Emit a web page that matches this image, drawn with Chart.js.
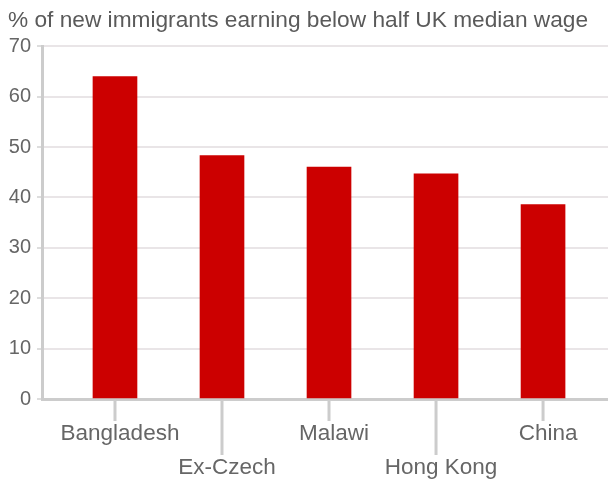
<!DOCTYPE html>
<html>
<head>
<meta charset="utf-8">
<script src="https://cdn.jsdelivr.net/npm/chart.js@4/dist/chart.umd.min.js"></script>
<style>
    html, body { margin: 0; padding: 0; background: #ffffff; }
    #wrap { width: 608px; height: 485px; }
</style>
</head>
<body>
<div id="wrap"><canvas id="wage-chart" width="608" height="485"></canvas></div>
<script>
const categories = ["Bangladesh", "Ex-Czech", "Malawi", "Hong Kong", "China"];
const values = [64, 48.3, 46, 44.7, 38.6];
const yTicks = [0, 10, 20, 30, 40, 50, 60, 70];
const title = "% of new immigrants earning below half UK median wage";

const FONT = "'Liberation Sans', Arial, Helvetica, sans-serif";

// long tick lines down to the staggered labels
const tickMarks = {
    id: "tickMarks",
    afterDraw(chart) {
        const x = chart.scales.x;
        const ctx = chart.ctx;
        ctx.save();
        ctx.strokeStyle = "#cccccc";
        ctx.lineWidth = 3;
        x.ticks.forEach((t, i) => {
            const px = x.getPixelForValue(t.value);
            const len = i % 2 ? 56 : 22;
            ctx.beginPath();
            ctx.moveTo(px, x.top);
            ctx.lineTo(px, x.top + len);
            ctx.stroke();
        });
        ctx.restore();
    }
};

const ctx = document.getElementById("wage-chart").getContext("2d");
new Chart(ctx, {
    type: "bar",
    data: {
        datasets: [
            {
                data: categories.map((c, i) => ({ x: i, y: values[i] })),
                backgroundColor: "#cc0000",
                barThickness: 44
            }
        ]
    },
    options: {
        responsive: false,
        animation: false,
        layout: {
            padding: { left: 8, right: 0, top: 0, bottom: 0 }
        },
        plugins: {
            legend: { display: false },
            tooltip: { enabled: false },
            title: {
                display: true,
                text: title,
                align: "start",
                color: "#5a5a5a",
                font: { family: FONT, size: 22.7, weight: "normal" },
                padding: { top: 7, bottom: 12 }
            }
        },
        scales: {
            x: {
                type: "linear",
                offset: false,
                min: -0.682,
                max: 4.607,
                afterBuildTicks: (scale) => {
                    scale.ticks = categories.map((c, i) => ({ value: i }));
                },
                afterFit: (scale) => {
                    scale.height = 86;
                },
                ticks: {
                    color: "#666666",
                    padding: 18,
                    labelOffset: 5,
                    autoSkip: false,
                    maxRotation: 0,
                    font: { family: FONT, size: 22.5, lineHeight: 1.5 },
                    callback: (value) => {
                        const i = Math.round(value);
                        return i % 2 ? ["", categories[i]] : categories[i];
                    }
                },
                grid: { drawOnChartArea: false, drawTicks: false },
                border: { display: true, color: "#cccccc", width: 3 }
            },
            y: {
                min: 0,
                max: 70,
                afterBuildTicks: (scale) => {
                    scale.ticks = yTicks.map((v) => ({ value: v }));
                },
                afterFit: (scale) => {
                    scale.width = 34;
                },
                ticks: {
                    color: "#666666",
                    padding: 6,
                    font: { family: FONT, size: 20 }
                },
                grid: {
                    color: "#e9e5e7",
                    lineWidth: 2,
                    tickLength: 5,
                    tickColor: "#dddddd"
                },
                border: { display: true, color: "#cccccc", width: 3 }
            }
        }
    },
    plugins: [tickMarks]
});
</script>
</body>
</html>
